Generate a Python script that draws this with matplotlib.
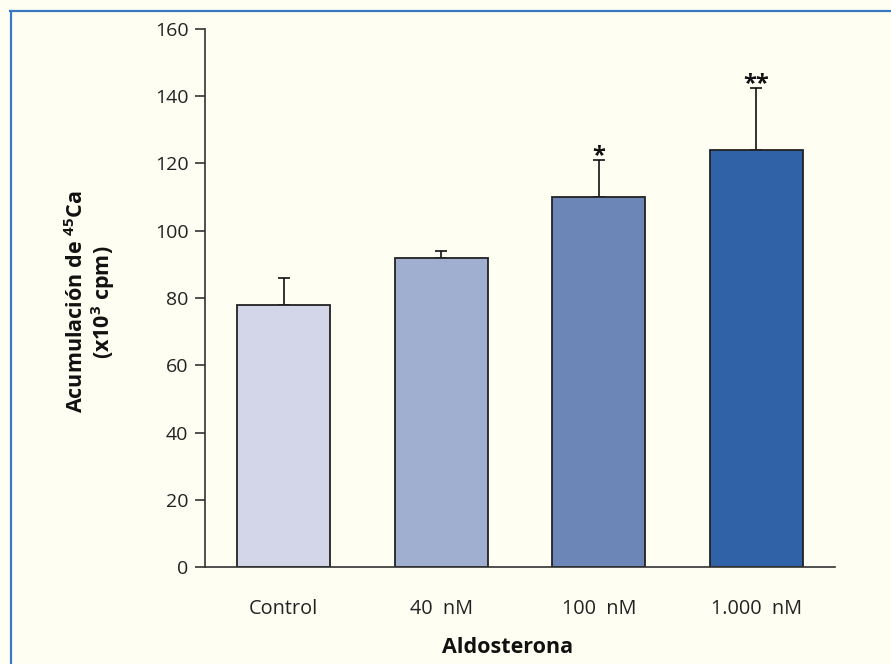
import matplotlib
matplotlib.use("Agg")
import matplotlib.pyplot as plt
from matplotlib.lines import Line2D

categories = ["Control", "40  nM", "100  nM", "1.000  nM"]
values = [78, 92, 110, 124]
errors = [8, 2, 11, 18.5]
colors = ["#D2D6E8", "#A0AED0", "#6C86B8", "#2F62A6"]
marks = ["", "", "*", "**"]
yticks = [0, 20, 40, 60, 80, 100, 120, 140, 160]

plt.rcParams['font.family'] = ['Open Sans', 'DejaVu Sans']
plt.rcParams['mathtext.default'] = 'regular'
bg = "#FEFEF3"
W, H = 891, 664
fig = plt.figure(figsize=(W/100, H/100), dpi=100, facecolor=bg)
ax = fig.add_axes([205/W, (H-567)/H, (835-205)/W, (567-29)/H])
ax.set_facecolor(bg)

x = list(range(len(categories)))
ax.bar(x, values, width=0.59, color=colors, edgecolor="#222222", linewidth=1.3, zorder=2)
ax.errorbar(x, values, yerr=[[0]*len(errors), errors], fmt='none', ecolor="#111111",
            elinewidth=1.2, capsize=4.5, capthick=1.2, zorder=1)
for xi, v, e, m in zip(x, values, errors, marks):
    if m:
        ax.text(xi, v + e - 2.4, m, ha='center', va='bottom', fontsize=17,
                fontweight='bold', color='#111111')

ax.set_xlim(-0.5, 3.5)
ax.set_ylim(0, 160)
ax.set_yticks(yticks)
ax.set_xticks(x)
ax.set_xticklabels(categories)
ax.spines['top'].set_visible(False)
ax.spines['right'].set_visible(False)
for s in ['left', 'bottom']:
    ax.spines[s].set_color('#333333')
    ax.spines[s].set_linewidth(1.2)
ax.tick_params(axis='y', direction='out', length=7, width=1.2, color='#333333',
               labelsize=14, labelcolor='#222222', pad=5)
ax.tick_params(axis='x', length=0, labelsize=14.3, labelcolor='#222222', pad=23)

fig.text(508/W, 1-653/H, "Aldosterona", ha='center', va='baseline', fontsize=15.5,
         fontweight='bold', color='#111111')
fig.text(91/W, 1-302/H, "Acumulación de $^{45}$Ca\n(x10$^{3}$ cpm)", ha='center', va='center',
         rotation=90, fontsize=15.5, fontweight='bold', color='#111111', linespacing=1.05,
         multialignment='center')

# blue frame
fc = "#3A78C2"
fig.add_artist(Line2D([10/W, 1], [1-11/H, 1-11/H], color=fc, linewidth=1.6, transform=fig.transFigure))
fig.add_artist(Line2D([11/W, 11/W], [1-11/H, 0], color=fc, linewidth=1.6, transform=fig.transFigure))

fig.savefig("out.png", dpi=100, facecolor=bg)
